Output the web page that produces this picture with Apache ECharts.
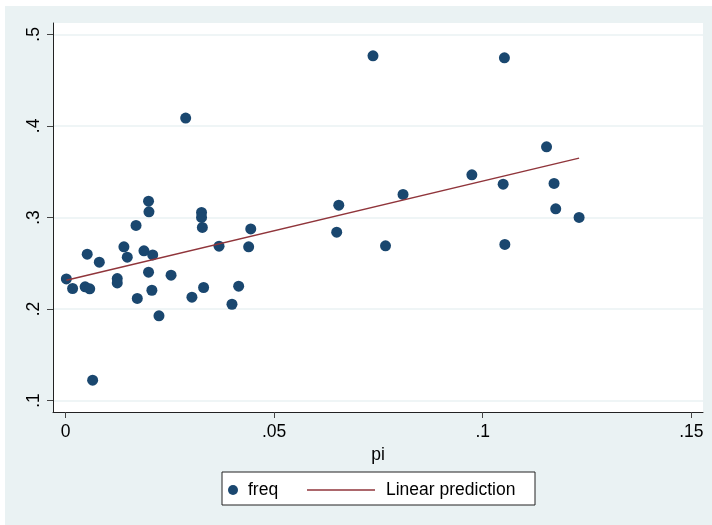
<!DOCTYPE html>
<html>
<head>
<meta charset="utf-8">
<script src="https://cdn.jsdelivr.net/npm/echarts@6/dist/echarts.min.js"></script>
<style>
html, body { margin: 0; padding: 0; background: #ffffff; }
#chart { position: absolute; left: 5px; top: 6px; width: 707px; height: 519px; }
</style>
</head>
<body>
<div id="chart"></div>
<script>
// scatter data: pi (x) and freq (y)
var piValues = [0.0002, 0.0017, 0.0052, 0.0047, 0.0058, 0.0081, 0.0065, 0.0124, 0.0124, 0.0140,
  0.0148, 0.0169, 0.0172, 0.0188, 0.0199, 0.0200, 0.0199, 0.0209, 0.0207, 0.0224,
  0.0253, 0.0303, 0.0326, 0.0326, 0.0328, 0.0331, 0.0368, 0.0399, 0.0415, 0.0439,
  0.0444, 0.0288, 0.0737, 0.1052, 0.0655, 0.0650, 0.0809, 0.0767, 0.0974, 0.1049,
  0.1053, 0.1153, 0.1171, 0.1175, 0.1231];
var freqValues = [0.2329, 0.2224, 0.2599, 0.2242, 0.2220, 0.2512, 0.1222, 0.2333, 0.2285, 0.2679,
  0.2566, 0.2913, 0.2115, 0.2635, 0.3178, 0.3061, 0.2402, 0.2591, 0.2205, 0.1925,
  0.2369, 0.2129, 0.3055, 0.3000, 0.2891, 0.2235, 0.2686, 0.2052, 0.2249, 0.2679,
  0.2875, 0.4085, 0.4766, 0.4744, 0.3134, 0.2839, 0.3251, 0.2690, 0.3466, 0.3364,
  0.2705, 0.3772, 0.3372, 0.3094, 0.3000];
// linear prediction endpoints
var fitX = [0.0002, 0.1231];
var fitY = [0.2315, 0.3648];
// tick values
var xTicks = [0, 0.05, 0.1, 0.15];
var yTicks = [0.1, 0.2, 0.3, 0.4, 0.5];
var seriesNames = ['freq', 'Linear prediction'];

function fmt(v) {
  if (Math.abs(v) < 1e-9) return '0';
  return String(+(+v).toFixed(3)).replace(/^0\./, '.');
}

var scatterData = piValues.map(function (x, i) { return [x, freqValues[i]]; });
var fitData = fitX.map(function (x, i) { return [x, fitY[i]]; });

var FONT = '"Liberation Sans", Arial, Helvetica, sans-serif';
var chart = echarts.init(document.getElementById('chart'), null, { renderer: 'canvas' });
chart.setOption({
  backgroundColor: '#EAF2F3',
  animation: false,
  textStyle: { fontFamily: FONT },
  grid: {
    left: 48, top: 17, right: 9, bottom: 113,
    show: true, backgroundColor: '#ffffff', borderWidth: 0
  },
  xAxis: {
    type: 'value',
    min: -0.003, max: 0.1528,
    name: 'pi', nameLocation: 'middle', nameGap: 28,
    nameTextStyle: { fontSize: 17.5, color: '#000', fontFamily: FONT },
    axisLine: { show: true, onZero: false, lineStyle: { color: '#222', width: 1 } },
    axisTick: { show: true, length: 6, customValues: xTicks, lineStyle: { color: '#444', width: 1 } },
    axisLabel: { customValues: xTicks, formatter: fmt, fontSize: 17.5, color: '#000', margin: 11, fontFamily: FONT },
    splitLine: { show: false }
  },
  yAxis: {
    type: 'value',
    min: 0.0875, max: 0.5124,
    axisLine: { show: true, onZero: false, lineStyle: { color: '#222', width: 1 } },
    axisTick: { show: true, length: 6, customValues: yTicks, lineStyle: { color: '#444', width: 1 } },
    axisLabel: { customValues: yTicks, formatter: fmt, fontSize: 17.5, color: '#000', rotate: 90, margin: 10, fontFamily: FONT },
    splitLine: { show: true, lineStyle: { color: '#EAF2F3', width: 1.5 } }
  },
  graphic: [{
    type: 'rect',
    shape: { x: 217, y: 466, width: 313, height: 33 },
    style: { fill: '#ffffff', stroke: '#222', lineWidth: 1 },
    z: 0, silent: true
  }],
  legend: [{
    data: [{ name: seriesNames[0], icon: 'circle' }],
    left: 223, top: 475, padding: 0,
    itemWidth: 10, itemHeight: 10,
    textStyle: { fontSize: 17.5, color: '#000', padding: [0, 0, 0, 5], fontFamily: FONT },
    z: 5
  }, {
    data: [{ name: seriesNames[1], icon: 'rect' }],
    left: 302, top: 475, padding: 0,
    itemWidth: 68, itemHeight: 1.5,
    textStyle: { fontSize: 17.5, color: '#000', padding: [0, 0, 0, 6], fontFamily: FONT },
    z: 5
  }],
  series: [{
    name: seriesNames[0],
    type: 'scatter',
    data: scatterData,
    symbol: 'circle',
    symbolSize: 11,
    itemStyle: { color: '#1A476F', opacity: 1 }
  }, {
    name: seriesNames[1],
    type: 'line',
    data: fitData,
    symbol: 'none',
    showSymbol: false,
    lineStyle: { color: '#90353B', width: 1.5 },
    itemStyle: { color: '#90353B' },
    z: 3
  }]
});
</script>
</body>
</html>
